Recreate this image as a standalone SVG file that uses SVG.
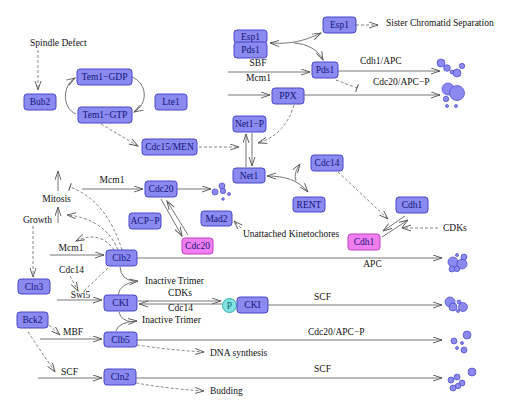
<svg xmlns="http://www.w3.org/2000/svg" width="512" height="413" viewBox="0 0 512 413">
<defs>
<marker id="a" markerUnits="userSpaceOnUse" markerWidth="10" markerHeight="8" refX="9" refY="3.5" orient="auto-start-reverse"><path d="M0,0.5 L9,3.5 L0,6.5" fill="none" stroke="#555" stroke-width="0.9"/></marker>
<marker id="t" markerUnits="userSpaceOnUse" markerWidth="4" markerHeight="10" refX="1" refY="5" orient="auto"><path d="M1,1 L1,9" stroke="#555" stroke-width="1"/></marker>
</defs>
<style>
.n rect{fill:#8a8af0;stroke:#4848c8;stroke-width:1}
.p rect{fill:#f07ef0;stroke:#c040c0;stroke-width:1}
.nt{font-family:"Liberation Serif",serif;font-size:9.5px;fill:#14147a;text-anchor:middle}
.l{font-family:"Liberation Serif",serif;font-size:9.5px;fill:#111}
.c{text-anchor:middle}
.s{fill:none;stroke:#666;stroke-width:0.9}
.d{fill:none;stroke:#666;stroke-width:0.8;stroke-dasharray:3,2}
.b circle{fill:#8a8af0;stroke:#4848d0;stroke-width:0.7}
</style>
<rect width="512" height="413" fill="#fff"/>
<g id="connectors">
<path class="d" d="M38,50 V90" marker-end="url(#a)"/>
<path class="s" d="M76,114 C62,108 62,86 75,78" marker-end="url(#a)"/>
<path class="s" d="M132,77 C148,84 148,104 134,112" marker-end="url(#a)"/>
<path class="d" d="M101,124 L138,146" marker-end="url(#a)"/>
<path class="d" d="M356,25 H378" marker-end="url(#a)"/>
<path class="s" d="M270,43 C290,44 302,42 321,33" marker-start="url(#a)" marker-end="url(#a)"/>
<path class="s" d="M294,43 C308,44 318,50 323,60" marker-end="url(#a)"/>
<path class="s" d="M228,72 H310" marker-end="url(#a)"/>
<path class="s" d="M228,95 H270" marker-end="url(#a)"/>
<path class="s" d="M338,71 H440" marker-end="url(#a)"/>
<path class="s" d="M304,95 H440" marker-end="url(#a)"/>
<path class="d" d="M336,80 L357,88" marker-end="url(#t)"/>
<path class="d" d="M294,105 Q285,135 258,143" marker-end="url(#a)"/>
<path class="d" d="M199,147 H239" marker-end="url(#a)"/>
<path class="s" d="M246,167 V134" marker-end="url(#a)"/>
<path class="s" d="M252,133 V166" marker-end="url(#a)"/>
<path class="s" d="M267,176 C285,176 298,180 308,192" marker-start="url(#a)" marker-end="url(#a)"/>
<path class="s" d="M296,181 C294,175 296,170 300,164" marker-end="url(#a)"/>
<path class="s" d="M82,189 H143" marker-end="url(#a)"/>
<path class="s" d="M177,189 H211" marker-end="url(#a)"/>
<path class="s" d="M161,199 L182,236" marker-end="url(#a)"/>
<path class="s" d="M188,235 L167,201" marker-end="url(#a)"/>
<path class="d" d="M241,228 L234,221" marker-end="url(#a)"/>
<path class="d" d="M338,172 L388,219" marker-end="url(#a)"/>
<path class="s" d="M382,237 L408,220" marker-end="url(#a)"/>
<path class="s" d="M405,216 L383,231" marker-end="url(#a)"/>
<path class="d" d="M438,228 H402" marker-end="url(#a)"/>
<path class="s" d="M58,191 V171" marker-end="url(#a)"/>
<path class="s" d="M58,223 V207" marker-end="url(#a)"/>
<path class="d" d="M33,226 V277" marker-end="url(#a)"/>
<path class="d" d="M122,250 C112,218 95,196 70,187" marker-end="url(#t)"/>
<path class="d" d="M118,250 C110,230 92,217 67,215" marker-end="url(#a)"/>
<path class="d" d="M114,250 C105,236 90,234 76,241" marker-end="url(#a)"/>
<path class="s" d="M50,255 H104" marker-end="url(#a)"/>
<path class="s" d="M137,258 H442" marker-end="url(#a)"/>
<path class="d" d="M70,276 L78,291" marker-end="url(#a)"/>
<path class="d" d="M108,268 L84,291"/>
<path class="s" d="M57,300 H102" marker-end="url(#a)"/>
<path class="s" d="M120,267 Q121,280 134,281"/>
<path class="s" d="M118,295 Q120,283 138,281" marker-end="url(#a)"/>
<path class="s" d="M138,301 H221" marker-end="url(#a)"/>
<path class="s" d="M222,304 H139" marker-end="url(#a)"/>
<path class="s" d="M268,305 H442" marker-end="url(#a)"/>
<path class="s" d="M119,312 Q121,321 133,322"/>
<path class="s" d="M116,331 Q118,322 137,321" marker-end="url(#a)"/>
<path class="d" d="M49,325 L60,335" marker-end="url(#a)"/>
<path class="s" d="M40,339 H102" marker-end="url(#a)"/>
<path class="s" d="M137,340 H442" marker-end="url(#a)"/>
<path class="d" d="M137,345 Q170,350 204,352" marker-end="url(#a)"/>
<path class="d" d="M28,332 L55,372" marker-end="url(#a)"/>
<path class="s" d="M38,378 H102" marker-end="url(#a)"/>
<path class="s" d="M136,378 H442" marker-end="url(#a)"/>
<path class="d" d="M136,383 Q170,389 204,391" marker-end="url(#a)"/>
</g>
<g id="labels">
<text class="l" x="30" y="46">Spindle Defect</text>
<text class="l" x="386" y="26">Sister Chromatid Separation</text>
<text class="l c" x="258" y="66">SBF</text>
<text class="l c" x="258.5" y="80.5">Mcm1</text>
<text class="l" x="360" y="64">Cdh1/APC</text>
<text class="l" x="373" y="85">Cdc20/APC−P</text>
<text class="l c" x="56.5" y="202">Mitosis</text>
<text class="l c" x="37.5" y="223">Growth</text>
<text class="l c" x="112" y="183">Mcm1</text>
<text class="l c" x="71" y="251">Mcm1</text>
<text class="l c" x="71.5" y="273">Cdc14</text>
<text class="l c" x="80.5" y="298">Swi5</text>
<text class="l" x="243" y="237">Unattached Kinetochores</text>
<text class="l" x="443" y="231">CDKs</text>
<text class="l c" x="372.5" y="267">APC</text>
<text class="l" x="145" y="284">Inactive Trimer</text>
<text class="l c" x="180" y="296">CDKs</text>
<text class="l c" x="180.5" y="311">Cdc14</text>
<text class="l c" x="322.5" y="300">SCF</text>
<text class="l" x="142" y="323">Inactive Trimer</text>
<text class="l c" x="73" y="335">MBF</text>
<text class="l" x="308" y="335">Cdc20/APC−P</text>
<text class="l" x="210" y="356">DNA synthesis</text>
<text class="l c" x="69.5" y="375">SCF</text>
<text class="l c" x="322.5" y="372">SCF</text>
<text class="l" x="210" y="394">Budding</text>
</g>
<g id="Bub2" class="n"><rect x="24" y="94" width="32" height="16" rx="3"/><text class="nt" x="40" y="105">Bub2</text></g>
<g id="Tem1-GDP" class="n"><rect x="77" y="69" width="55" height="16" rx="3"/><text class="nt" x="104.5" y="80">Tem1−GDP</text></g>
<g id="Tem1-GTP" class="n"><rect x="78" y="107" width="54" height="16" rx="3"/><text class="nt" x="105" y="118">Tem1−GTP</text></g>
<g id="Lte1" class="n"><rect x="155" y="94" width="32" height="16" rx="3"/><text class="nt" x="171" y="105">Lte1</text></g>
<g id="Esp1-Pds1" class="n"><rect x="234" y="30" width="33" height="13" rx="3"/><text class="nt" x="250.5" y="40">Esp1</text><rect x="234" y="42" width="33" height="16" rx="3"/><text class="nt" x="250.5" y="53">Pds1</text></g>
<g id="Esp1" class="n"><rect x="323" y="17" width="33" height="16" rx="3"/><text class="nt" x="339.5" y="28">Esp1</text></g>
<g id="Pds1" class="n"><rect x="312" y="62" width="26" height="16" rx="3"/><text class="nt" x="325" y="73">Pds1</text></g>
<g id="PPX" class="n"><rect x="272" y="88" width="32" height="16" rx="3"/><text class="nt" x="288" y="99">PPX</text></g>
<g id="Net1-P" class="n"><rect x="233" y="116" width="33" height="16" rx="3"/><text class="nt" x="249.5" y="127">Net1−P</text></g>
<g id="Cdc15-MEN" class="n"><rect x="142" y="139" width="55" height="16" rx="3"/><text class="nt" x="169.5" y="150">Cdc15/MEN</text></g>
<g id="Net1" class="n"><rect x="233" y="168" width="32" height="15" rx="3"/><text class="nt" x="249" y="179">Net1</text></g>
<g id="Cdc14" class="n"><rect x="311" y="155" width="32" height="16" rx="3"/><text class="nt" x="327" y="166">Cdc14</text></g>
<g id="RENT" class="n"><rect x="293" y="197" width="32" height="15" rx="3"/><text class="nt" x="309" y="208">RENT</text></g>
<g id="Cdc20" class="n"><rect x="145" y="181" width="32" height="16" rx="3"/><text class="nt" x="161" y="192">Cdc20</text></g>
<g id="ACP-P" class="n"><rect x="129" y="213" width="32" height="16" rx="3"/><text class="nt" x="145" y="224">ACP−P</text></g>
<g id="Mad2" class="n"><rect x="201" y="211" width="31" height="15" rx="3"/><text class="nt" x="216.5" y="222">Mad2</text></g>
<g id="Cdc20-pink" class="p"><rect x="182" y="238" width="31" height="16" rx="3"/><text class="nt" x="197.5" y="249">Cdc20</text></g>
<g id="Cdh1" class="n"><rect x="396" y="197" width="32" height="16" rx="3"/><text class="nt" x="412" y="208">Cdh1</text></g>
<g id="Cdh1-pink" class="p"><rect x="348" y="234" width="32" height="16" rx="3"/><text class="nt" x="364" y="245">Cdh1</text></g>
<g id="Clb2" class="n"><rect x="106" y="250" width="31" height="16" rx="3"/><text class="nt" x="121.5" y="261">Clb2</text></g>
<g id="Cln3" class="n"><rect x="18" y="279" width="32" height="15" rx="3"/><text class="nt" x="34" y="290">Cln3</text></g>
<g id="CKI" class="n"><rect x="104" y="295" width="33" height="16" rx="3"/><text class="nt" x="120.5" y="306">CKI</text></g>
<g id="P"><circle cx="229.5" cy="305.5" r="7" fill="#7fe3e3" stroke="#2aa6a6" stroke-width="0.9"/><text class="nt" x="229.5" y="309" fill="#1a6a6a" style="fill:#176b6b">P</text></g>
<g id="CKI-P" class="n"><rect x="237" y="297" width="31" height="16" rx="3"/><text class="nt" x="252.5" y="308">CKI</text></g>
<g id="Bck2" class="n"><rect x="17" y="312" width="31" height="16" rx="3"/><text class="nt" x="32.5" y="323">Bck2</text></g>
<g id="Clb5" class="n"><rect x="104" y="332" width="33" height="15" rx="3"/><text class="nt" x="120.5" y="343">Clb5</text></g>
<g id="Cln2" class="n"><rect x="104" y="369" width="32" height="16" rx="3"/><text class="nt" x="120" y="380">Cln2</text></g>
<g id="blobs" class="b">
<circle cx="441" cy="63" r="4"/><circle cx="447" cy="68" r="3.3"/><circle cx="462" cy="66" r="2.7"/><circle cx="452" cy="72" r="2"/><circle cx="457" cy="73" r="4"/>
<circle cx="448" cy="89" r="6"/><circle cx="457" cy="93" r="7.5"/><circle cx="446" cy="99" r="2.7"/><circle cx="447" cy="106" r="1.5"/><circle cx="456" cy="106" r="1.5"/>
<circle cx="215" cy="192" r="3"/><circle cx="222" cy="186" r="3"/><circle cx="223" cy="191" r="2.7"/><circle cx="229" cy="194" r="1.5"/><circle cx="223" cy="199" r="1.3"/>
<circle cx="453" cy="262" r="5"/><circle cx="462" cy="264" r="5"/><circle cx="464" cy="257" r="3"/><circle cx="457" cy="255" r="1.5"/><circle cx="452" cy="269" r="3"/><circle cx="457" cy="269" r="2.7"/>
<circle cx="450" cy="302" r="5"/><circle cx="453" cy="307" r="4"/><circle cx="463" cy="307" r="4.5"/><circle cx="459" cy="302" r="2"/><circle cx="458" cy="311" r="1.5"/>
<circle cx="467" cy="335" r="4"/><circle cx="454" cy="341" r="3"/><circle cx="462" cy="343" r="1.5"/><circle cx="457" cy="348" r="1.5"/><circle cx="464" cy="350" r="3"/>
<circle cx="472" cy="372" r="4"/><circle cx="457" cy="377" r="3"/><circle cx="451" cy="380" r="3"/><circle cx="462" cy="383" r="3"/><circle cx="458" cy="386" r="2.7"/><circle cx="453" cy="388" r="3"/>
</g>
</svg>
